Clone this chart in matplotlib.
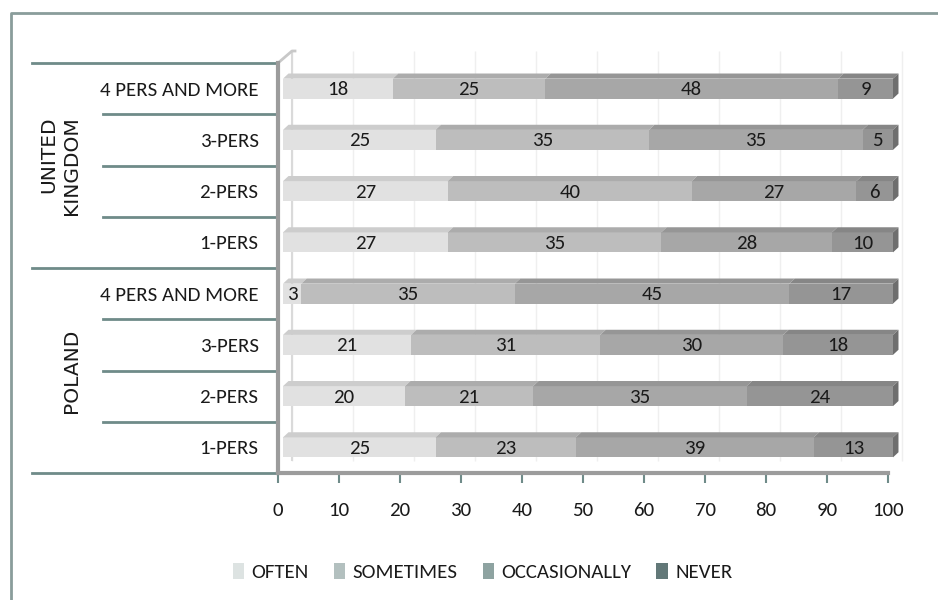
import matplotlib
matplotlib.use("Agg")
import matplotlib.pyplot as plt
import matplotlib.transforms as mtransforms
from matplotlib.patches import Polygon, Patch
from matplotlib.lines import Line2D

plt.rcParams['font.family'] = ['Carlito', 'Lato', 'DejaVu Sans']

# rows listed bottom to top
rows = ["1-PERS", "2-PERS", "3-PERS", "4 PERS AND MORE",
        "1-PERS", "2-PERS", "3-PERS", "4 PERS AND MORE"]
groups = ["POLAND", "UNITED\nKINGDOM"]
series = ["OFTEN", "SOMETIMES", "OCCASIONALLY", "NEVER"]

often = [25, 20, 21, 3, 27, 27, 25, 18]
sometimes = [23, 21, 31, 35, 35, 40, 35, 25]
occasionally = [39, 35, 30, 45, 28, 27, 35, 48]
never = [13, 24, 18, 17, 10, 6, 5, 9]

front_cols = ["#e1e1e1", "#bdbdbd", "#a7a7a7", "#959595"]
top_cols = ["#cdcdcd", "#acacac", "#969696", "#868686"]
cap_col = "#6e6e6e"
legend_cols = ["#dde3e2", "#b3c0bf", "#8ea3a1", "#627878"]
line_col = "#6f8b89"
text_col = "#1a1a1a"
fs = 15

fig = plt.figure(figsize=(9.38, 6), dpi=100)
ax = fig.add_axes([278 / 938, 127 / 600, 610 / 938, 410 / 600])
ax.set_xlim(0, 100)
ax.set_ylim(-0.5, 7.5)

dpi = fig.dpi
# bars sit a little in front of the wall
front = ax.transData + mtransforms.ScaledTranslation(5 / dpi, 0, fig.dpi_scale_trans)
back = ax.transData + mtransforms.ScaledTranslation(14 / dpi, 12 / dpi, fig.dpi_scale_trans)

# faint gridlines on the back wall
ax.vlines(range(0, 101, 10), -0.5, 7.5, colors="#efefef", lw=1, transform=back,
          clip_on=False, zorder=0)
ax.vlines([0], -0.5, 7.5, colors="#dadada", lw=1.5, transform=back, clip_on=False, zorder=0)

h = 0.39
dx, dy = 0.9, 0.1
values = [often, sometimes, occasionally, never]
for i in range(len(rows)):
    left = 0
    for s, vals in enumerate(values):
        w = vals[i]
        y0, y1 = i - h / 2, i + h / 2
        ax.add_patch(Polygon([(left, y0), (left + w, y0), (left + w, y1), (left, y1)],
                             closed=True, fc=front_cols[s], ec="none", transform=front,
                             clip_on=False, zorder=3))
        ax.add_patch(Polygon([(left, y1), (left + w, y1), (left + w + dx, y1 + dy),
                              (left + dx, y1 + dy)],
                             closed=True, fc=top_cols[s], ec="none", transform=front,
                             clip_on=False, zorder=3))
        ax.text(left + w / 2, i - 0.02, str(w), ha="center", va="center", fontsize=fs,
                color=text_col, transform=front, zorder=5)
        left += w
    ax.add_patch(Polygon([(left, i - h / 2), (left, i + h / 2), (left + dx, i + h / 2 + dy),
                          (left + dx, i - h / 2 + dy)],
                         closed=True, fc=cap_col, ec="none", transform=front,
                         clip_on=False, zorder=3))

# wall slant at the top left
wall_top = ax.transData.transform((0, 7.5))
ax.add_artist(Line2D([wall_top[0], wall_top[0] + 14, wall_top[0] + 17],
                     [wall_top[1], wall_top[1] + 12, wall_top[1] + 12],
                     color="#c8c8c8", lw=2, transform=None, clip_on=False))

for sp in ["top", "right"]:
    ax.spines[sp].set_visible(False)
ax.spines["left"].set_color("#9c9c9c")
ax.spines["left"].set_linewidth(3)
ax.spines["bottom"].set_color("#9c9c9c")
ax.spines["bottom"].set_linewidth(3)

ax.set_xticks(range(0, 101, 10))
ax.tick_params(axis="x", direction="out", length=7, width=1.5, color=line_col,
               pad=14, labelsize=fs, labelcolor=text_col)
ax.set_yticks(range(len(rows)))
ax.set_yticklabels(rows)
ax.tick_params(axis="y", length=0, pad=14, labelsize=fs, labelcolor=text_col)
for lab in ax.get_yticklabels():
    lab.set_va("center_baseline")

# nested category separators
bt = mtransforms.blended_transform_factory(ax.transAxes, ax.transData)
for yb in [7.5, 3.5, -0.5]:
    ax.plot([-0.403, 0], [yb, yb], color=line_col, lw=2, transform=bt, clip_on=False)
for yb in [6.5, 5.5, 4.5, 2.5, 1.5, 0.5]:
    ax.plot([-0.287, 0], [yb, yb], color=line_col, lw=2, transform=bt, clip_on=False)

ax.text(-0.357, 5.5, groups[1], rotation=90, ha="center", va="center",
        multialignment="right", linespacing=1.2, fontsize=14.5,
        family="DejaVu Sans", color=text_col, transform=bt)
ax.text(-0.338, 1.5, groups[0], rotation=90, ha="center", va="center",
        fontsize=14.5, family="DejaVu Sans", color=text_col, transform=bt)

handles = [Patch(facecolor=c, edgecolor="none") for c in legend_cols]
fig.legend(handles, series, loc="center", bbox_to_anchor=(0.5 * (247 + 718) / 938, 1 - 572 / 600),
           ncol=4, frameon=False, fontsize=fs, handlelength=0.55, handleheight=0.8,
           handletextpad=0.35, columnspacing=1.2, labelcolor=text_col)

# outer frame
fig.add_artist(Line2D([11 / 938, 11 / 938, 1.01], [-0.01, 1 - 13 / 600, 1 - 13 / 600],
                      color="#8a9d9b", lw=2, transform=fig.transFigure))

fig.savefig("out.png", dpi=100)
